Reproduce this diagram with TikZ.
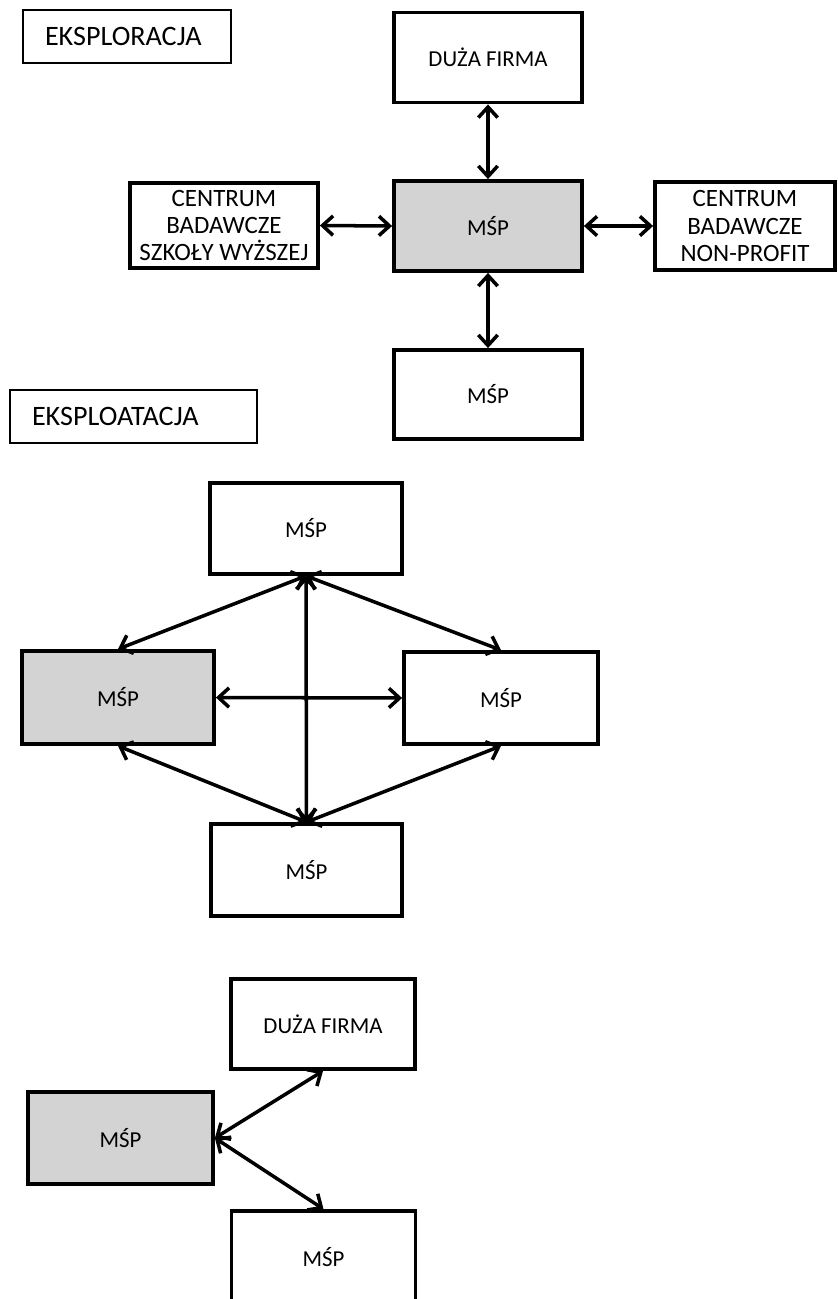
\documentclass[tikz,border=0pt]{standalone}
\usepackage{fontspec}
\setmainfont{Carlito}
\usepackage{tikz}
\usetikzlibrary{arrows, arrows.meta}
\definecolor{grisclair}{RGB}{211,211,211}

\begin{document}
\begin{tikzpicture}[x=0.02cm, y=-0.02cm,
    boite/.style={draw, line width=2.2pt, align=center, inner sep=0pt,
        font=\fontsize{13}{15.5}\selectfont},
    grise/.style={boite, fill=grisclair},
    centrum/.style={boite, font=\fontsize{14.2}{15.5}\selectfont},
    etiquette/.style={draw, line width=0.7pt, inner xsep=0.44cm, inner ysep=0pt,
        minimum height=1.06cm, align=left, font=\fontsize{16}{19}\selectfont},
    fleche/.style={{Straight Barb[length=6pt,width=11pt]}-{Straight Barb[length=6pt,width=11pt]},
        line width=2pt}]
    \useasboundingbox (0,0) rectangle (838,1299);

    % Exploration
    \node[etiquette, text width=3.28cm] (explo) at (127,36.5) {EKSPLORACJA};
    \node[boite, minimum width=3.76cm, minimum height=1.8cm] (firmaA) at (488,57.5) {DUŻA FIRMA};
    \node[grise, minimum width=3.76cm, minimum height=1.8cm] (mspA) at (488,226) {MŚP};
    \node[centrum, minimum width=3.76cm, minimum height=1.7cm] (uczelnia) at (224,225.5) {CENTRUM\\BADAWCZE\\SZKOŁY WYŻSZEJ};
    \node[centrum, minimum width=3.6cm, minimum height=1.76cm] (nonprofit) at (745,226) {CENTRUM\\BADAWCZE\\NON-PROFIT};
    \node[boite, minimum width=3.76cm, minimum height=1.78cm] (mspAdol) at (488,394.5) {MŚP};

    \draw[fleche] (firmaA.south) -- (mspA.north);
    \draw[fleche] (uczelnia.east) -- (mspA.west);
    \draw[fleche] (mspA.east) -- (nonprofit.west);
    \draw[fleche] (mspA.south) -- (mspAdol.north);

    % Exploitation
    \node[etiquette, text width=4.06cm] (eksploat) at (133.5,416.5) {EKSPLOATACJA};
    \node[boite, minimum width=3.84cm, minimum height=1.82cm] (mspGora) at (306,528.5) {MŚP};
    \node[grise, minimum width=3.84cm, minimum height=1.86cm] (mspB) at (118,697.5) {MŚP};
    \node[boite, minimum width=3.88cm, minimum height=1.84cm] (mspPrawy) at (501,698) {MŚP};
    \node[boite, minimum width=3.82cm, minimum height=1.84cm] (mspDol) at (306.5,870) {MŚP};

    \draw[fleche] (mspGora.south) -- (mspB.north);
    \draw[fleche] (mspGora.south) -- (mspPrawy.north);
    \draw[fleche] (mspGora.south) -- (mspDol.north);
    \draw[fleche] (mspB.east) -- (mspPrawy.west);
    \draw[fleche] (mspDol.north) -- (mspB.south);
    \draw[fleche] (mspDol.north) -- (mspPrawy.south);

    % Troisieme schema
    \node[boite, minimum width=3.68cm, minimum height=1.8cm] (firmaC) at (323,1024) {DUŻA FIRMA};
    \node[grise, minimum width=3.7cm, minimum height=1.84cm] (mspC) at (120.5,1138) {MŚP};
    \node[boite, minimum width=3.68cm, minimum height=1.84cm] (mspCdol) at (323.5,1257) {MŚP};

    \draw[fleche] (mspC.east) -- (firmaC.south);
    \draw[fleche] (mspC.east) -- (mspCdol.north);
\end{tikzpicture}
\end{document}
